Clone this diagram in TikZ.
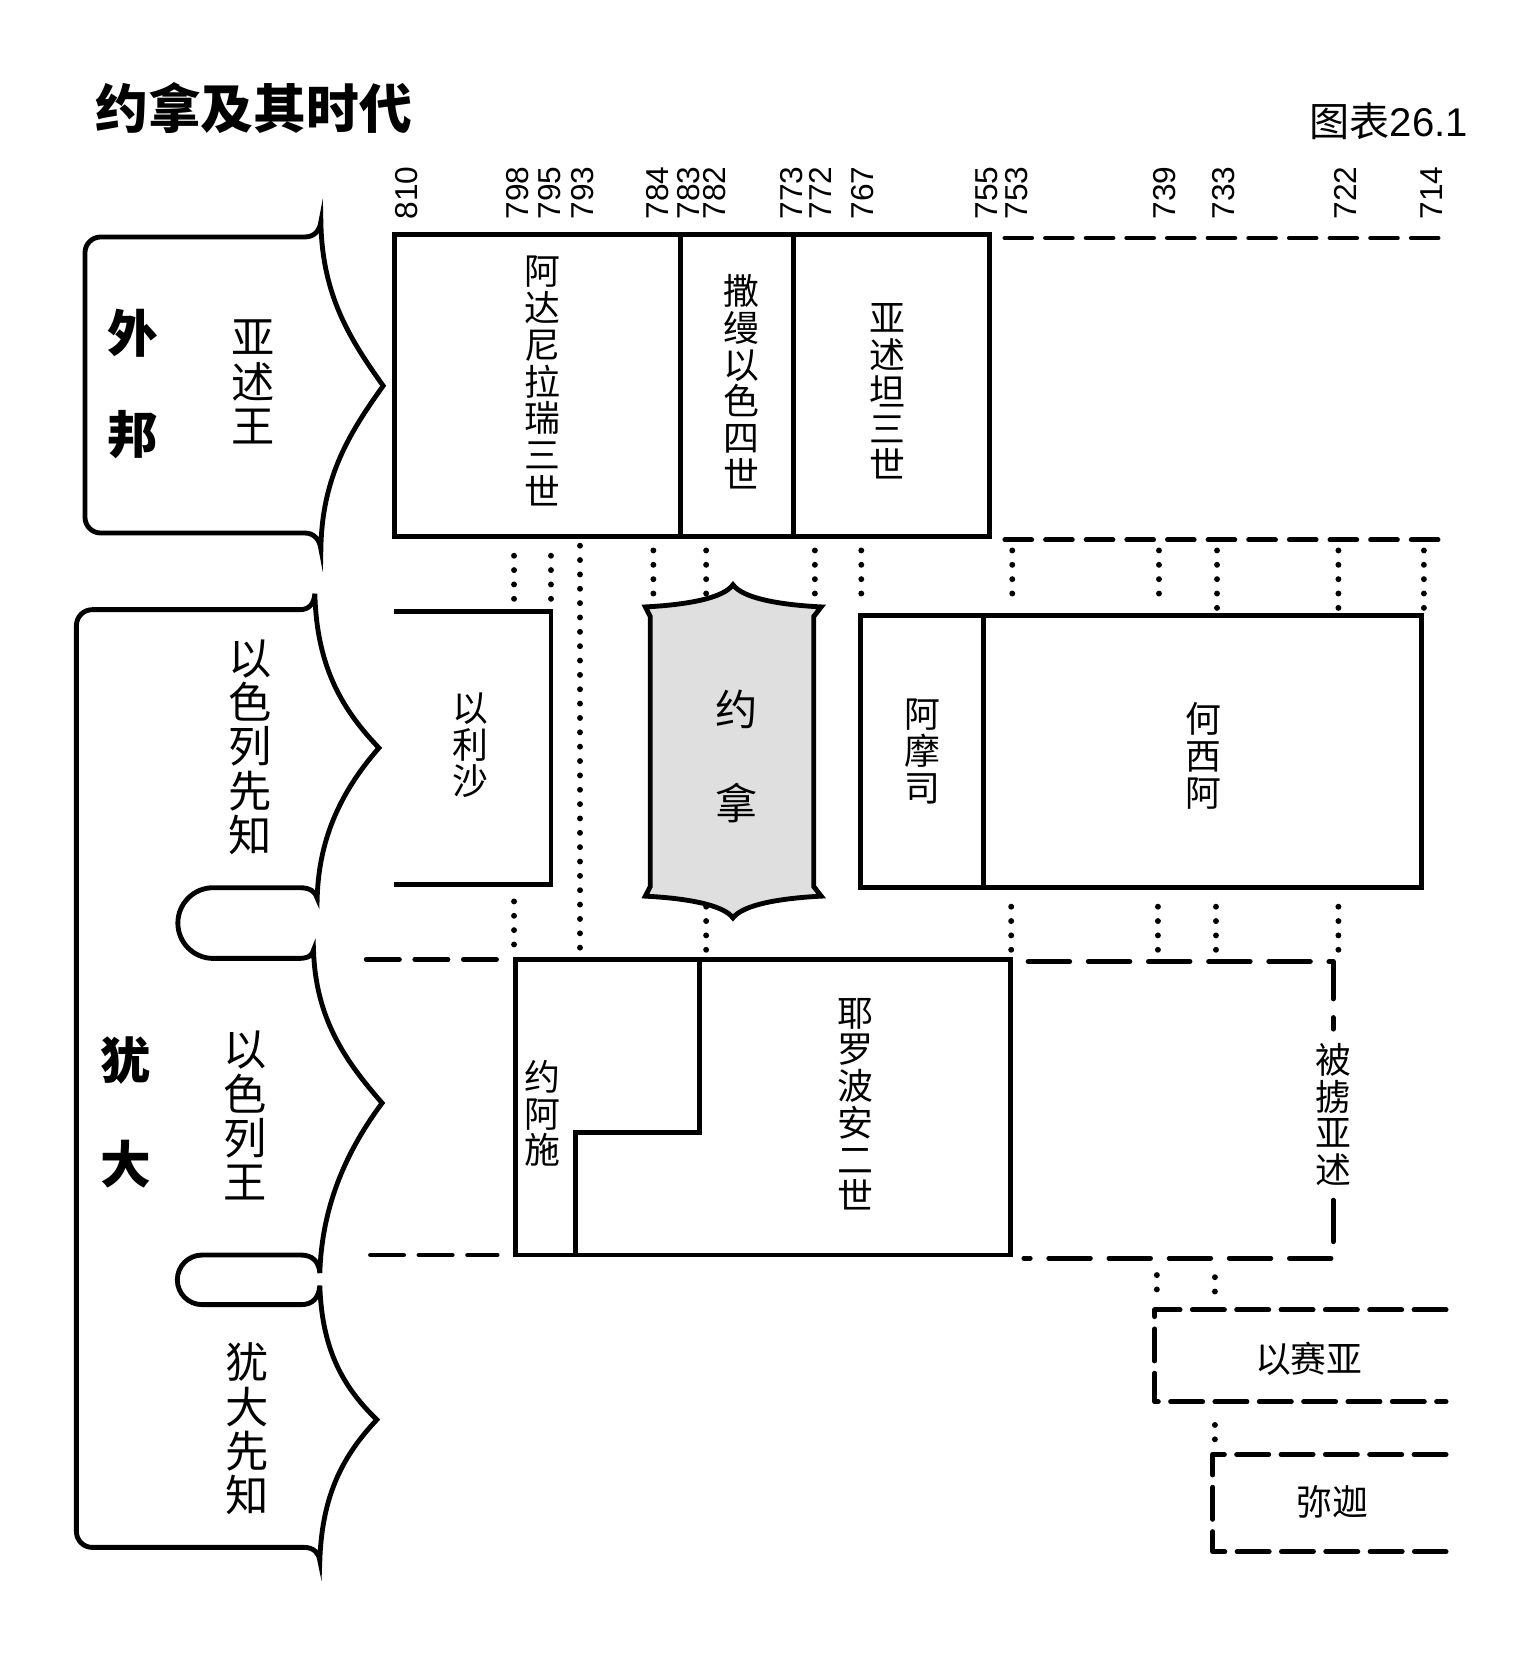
\documentclass[tikz,border=0pt]{standalone}
\usepackage{fontspec}
\setmainfont{Liberation Sans}
\newfontfamily\cjk{Noto Sans CJK SC}
\tikzset{
  dots/.style={line width=2.8pt, line cap=round, dash pattern=on 0pt off 6.8pt},
  dashA/.style={line width=2.3pt, line cap=round, dash pattern=on 12.7pt off 6.55pt},
  dashB/.style={line width=2.3pt, line cap=round, dash pattern=on 15.7pt off 7.3pt},
  dashC/.style={line width=2.3pt, line cap=round, line join=round, dash pattern=on 19.7pt off 8.8pt},
  dashD/.style={line width=2.3pt, line cap=round, line join=round, dash pattern=on 15.2pt off 5.8pt},
  yr/.style={rotate=90, anchor=west, inner sep=0pt, font=\fontsize{15}{15}\selectfont},
  boxtxt/.style={align=center, inner sep=0pt, font=\cjk\fontsize{17}{17.4}\selectfont},
  sidetxt/.style={align=center, inner sep=0pt, font=\cjk\fontsize{20.5}{21}\selectfont},
  bigtxt/.style={align=center, inner sep=0pt, font=\cjk\bfseries\fontsize{24}{48}\selectfont},
}
\begin{document}
\begin{tikzpicture}[x=0.5pt,y=-0.5pt,line width=2.3pt]
\path[use as bounding box] (0,0) rectangle (1453,1567);

% title
\node[anchor=west, inner sep=0pt, font=\cjk\bfseries\fontsize{25}{25}\selectfont] (title) at (88,102) {约拿及其时代};
\node[anchor=east, inner sep=0pt, font=\fontsize{19}{19}\selectfont] (fig) at (1393,115) {{\cjk 图表}26.1};

% years
\foreach \yr/\xx in {810/385,798/490,795/521,793/552,784/623,783/652,782/677,773/750,772/777,767/817,755/935,753/963,739/1103,733/1159,722/1275,714/1356}
  \node[yr] (y\yr) at (\xx,210) {\yr};

% left brackets
\draw (304,210)
 .. controls (305,280) and (332,322) .. (363,365.5)
 .. controls (332,409) and (305,451) .. (304,520)
 .. controls (303,512) and (298,505) .. (289,505)
 -- (95.5,505)
 .. controls (87.2,505) and (80.5,498.3) .. (80.5,490)
 -- (80.5,239.5)
 .. controls (80.5,231.2) and (87.2,224.5) .. (95.5,224.5)
 -- (289,224.5)
 .. controls (298,224.5) and (303,218) .. (304,210)
 -- cycle;

\draw (298.3,562.5)
 .. controls (300,635) and (327,675) .. (359,708.6)
 .. controls (327,745) and (302,790) .. (300.5,851)
 .. controls (299,845) and (294,841) .. (284,841)
 -- (202,841)
 .. controls (183.5,841) and (168.5,856) .. (168.5,874.5)
 .. controls (168.5,893) and (183.5,908) .. (202,908)
 -- (283,908)
 .. controls (292,908) and (296,905) .. (297,900)
 .. controls (299,965) and (327,1005) .. (362,1045)
 .. controls (330,1088) and (305,1140) .. (303,1206)
 .. controls (302,1195) and (296,1189) .. (285,1189)
 -- (191.5,1189)
 .. controls (178.5,1189) and (168,1199.5) .. (168,1212.5)
 .. controls (168,1225.5) and (178.5,1236) .. (191.5,1236)
 -- (285,1236)
 .. controls (296,1236) and (302,1230) .. (303,1218)
 .. controls (305,1280) and (326,1315) .. (357,1345)
 .. controls (326,1378) and (305,1415) .. (303,1478.6)
 .. controls (302,1471) and (297,1466) .. (288,1466)
 -- (87.4,1466)
 .. controls (79.1,1466) and (72.4,1459.3) .. (72.4,1451)
 -- (72.4,592.6)
 .. controls (72.4,584.3) and (79.1,577.6) .. (87.4,577.6)
 -- (284,577.6)
 .. controls (293,577.6) and (297.5,572) .. (298.3,562.5)
 -- cycle;

\node[bigtxt] (wb) at (126,364) {外\\邦};
\node[bigtxt, font=\cjk\bfseries\fontsize{24}{49.5}\selectfont] (yd) at (119,1054) {犹\\大};
\node[sidetxt] (ysw) at (240,362) {亚\\述\\王};
\node[sidetxt] (ylxz) at (237,708) {以\\色\\列\\先\\知};
\node[sidetxt] (ylw) at (232,1057) {以\\色\\列\\王};
\node[sidetxt] (ydxz) at (234,1354) {犹\\大\\先\\知};

% top row: Assyrian kings
\draw (373.5,222.5) rectangle (937.5,508);
\draw (645,222.5) -- (645,508);
\draw (752,222.5) -- (752,508);
\node[boxtxt] (adn) at (514,361) {阿\\达\\尼\\拉\\瑞\\三\\世};
\node[boxtxt] (sal) at (702,361.5) {撒\\缦\\以\\色\\四\\世};
\node[boxtxt] (asd) at (841,371) {亚\\述\\坦\\三\\世};
\draw[dashA] (952,225.5) -- (1372,225.5);
\draw[dashA] (952,511.5) -- (1372,511.5);

% middle row: prophets of Israel
\draw (373,579) -- (522,579) -- (522,838) -- (373,838);
\node[boxtxt] (els) at (446,706) {以\\利\\沙};
\draw[fill=gray!25] (616,584) -- (611.4,575)
 .. controls (650,573) and (685,567) .. (694.4,554)
 .. controls (704,567) and (739,573) .. (778,575)
 -- (771,584) -- (771,840) -- (778,849)
 .. controls (739,851) and (704,857) .. (694.4,869.6)
 .. controls (685,857) and (650,851) .. (611.4,849)
 -- (616,840) -- cycle;
\node[align=center, inner sep=0pt, font=\cjk\fontsize{20}{44.5}\selectfont] (jn) at (698,716.5) {约\\拿};
\draw (815,583) rectangle (1347,841);
\draw (932,583) -- (932,841);
\node[boxtxt] (ams) at (874,712) {阿\\摩\\司};
\node[boxtxt] (hxa) at (1140,716) {何\\西\\阿};

% lower row: kings of Israel
\draw[dashB] (347,909) -- (471,909);
\draw[dashB] (351,1189) -- (471,1189);
\draw (488,909) rectangle (957,1189);
\draw (663,909) -- (663,1073) -- (545,1073) -- (545,1189);
\node[boxtxt] (yas) at (514,1055) {约\\阿\\施};
\node[boxtxt] (ylba) at (810,1046) {耶\\罗\\波\\安\\二\\世};
\draw[dashC] (974,911) -- (1263,911) -- (1263,975);
\draw[dashC] (1263,1137) -- (1263,1192) -- (970,1192);
\node[boxtxt] (blys) at (1263,1056) {被\\掳\\亚\\述};

% Judah prophets
\draw[dashD] (1370,1241) -- (1094,1241) -- (1094,1328) -- (1370,1328);
\node[boxtxt] (ysy) at (1240,1287) {以赛亚};
\draw[dashD] (1370,1378) -- (1149,1378) -- (1149,1470) -- (1370,1470);
\node[boxtxt] (mj) at (1262,1423) {弥迦};

% dotted year lines
\foreach \xx/\ya/\yb in {487/526.5/567.8, 522/526.5/567.8, 549.5/517/898.3,
  619/521.5/562.8, 669/521.5/562.8, 772/521.5/562.8, 816/521.5/562.8,
  959/521.5/562.8, 1098/521.5/562.8, 1153/521.5/576.4, 1268/521.5/576.4, 1349/521.5/576.4,
  487/854/895.3, 669/859/900.3, 958/859/900.3, 1097/859/900.3, 1152/859/900.3, 1268/859/900.3,
  1096/1208/1222.1, 1151/1210/1224.1, 1151/1350/1364.1}
  \draw[dots] (\xx,\ya) -- (\xx,\yb);
\end{tikzpicture}
\end{document}
